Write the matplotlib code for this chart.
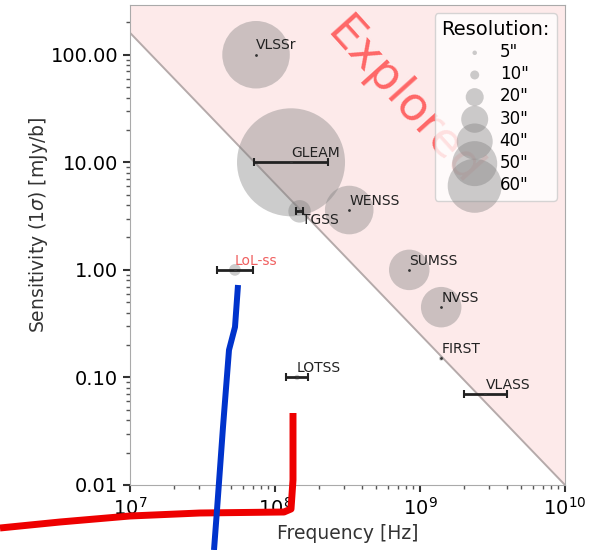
import numpy as np
import matplotlib
matplotlib.use("Agg")
import matplotlib.pyplot as plt
from matplotlib.ticker import FormatStrFormatter
from matplotlib.lines import Line2D

# surveys: frequency range [Hz], 1-sigma sensitivity [mJy/b], resolution [arcsec]
names = ["VLSSr", "GLEAM", "TGSS", "WENSS", "SUMSS", "NVSS", "FIRST", "VLASS", "LOTSS", "LoL-ss"]
freq_lo = np.array([74, 72, 140, 325, 843, 1400, 1400, 2000, 120, 40]) * 1e6
freq_hi = np.array([74, 231, 156, 325, 843, 1400, 1400, 4000, 168, 70]) * 1e6
sens = np.array([100, 10, 3.5, 3.6, 1.0, 0.45, 0.15, 0.07, 0.1, 1.0])
res = np.array([75, 120, 25, 54, 45, 45, 5, 2.5, 6, 13])

legend_res = [5, 10, 20, 30, 40, 50, 60]

# boundary of the explored region
edge_freq = [1e7, 1e10]
edge_sens = [160, 0.01]

# hand-drawn strokes over the picture (figure pixels)
red_stroke = [(0, 528), (60, 522), (130, 516), (200, 513), (284, 512), (291, 509), (293, 480), (293, 413)]
blue_stroke = [(238, 285), (235, 327), (229, 350), (223, 427), (217, 510), (214, 550)]

W, H = 597, 550
fig = plt.figure(figsize=(W / 100, H / 100), dpi=100)
ax = fig.add_axes([130 / W, 1 - 485 / H, 435 / W, 480 / H])
ax.set_xscale("log")
ax.set_yscale("log")
ax.set_xlim(1e7, 1e10)
ax.set_ylim(0.01, 290)

size = lambda r: 0.42 * np.asarray(r) ** 2

ax.fill_between(edge_freq, edge_sens, [290, 290], color="#fdeaea", lw=0, zorder=0)
ax.plot(edge_freq, edge_sens, color="#b5aaaa", lw=1.4, zorder=1)
ax.text(7.7e8, 36, "Explored", rotation=-48, fontsize=34, color="#ff5050", alpha=0.85,
        ha="center", va="center", zorder=1)

centre = np.sqrt(freq_lo * freq_hi)
ax.scatter(centre, sens, s=size(res), color="gray", alpha=0.4, edgecolors="none", zorder=2)

for i, nm in enumerate(names):
    c = centre[i]
    if freq_hi[i] > freq_lo[i]:
        ax.errorbar(c, sens[i], xerr=[[c - freq_lo[i]], [freq_hi[i] - c]], fmt="none",
                    ecolor="#222222", elinewidth=2, capsize=3, capthick=1.5, zorder=3)
    ax.plot(c, sens[i], ".", color="#333333", ms=2, zorder=3)
    col = "#f06060" if nm == "LoL-ss" else "#222222"
    if nm == "TGSS":
        ax.text(c * 1.04, sens[i] * 0.97, nm, fontsize=10, color=col, ha="left", va="top", zorder=4)
    else:
        ax.text(c, sens[i] * 1.05, nm, fontsize=10, color=col, ha="left", va="bottom", zorder=4)

handles = [ax.scatter([], [], s=size(r), color="gray", alpha=0.4, edgecolors="none") for r in legend_res]
ax.legend(handles, [f'{r}"' for r in legend_res], title="Resolution:", loc="upper right",
          fontsize=12, title_fontsize=14, framealpha=0.8, handlelength=1.4, labelspacing=0.25)

ax.yaxis.set_major_formatter(FormatStrFormatter("%.2f"))
ax.tick_params(which="major", labelsize=14, length=5, width=1.5, color="#333333")
ax.tick_params(which="minor", length=3, width=1, color="#555555")
for sp in ax.spines.values():
    sp.set_color("#aaaaaa")
ax.set_xlabel("Frequency [Hz]", fontsize=13.5, color="#333333")
ax.set_ylabel(r"Sensitivity (1$\sigma$) [mJy/b]", fontsize=13.5, color="#333333")
ax.yaxis.set_label_coords(-0.185, 0.542)

for pts, col, lw in [(red_stroke, "#ee0000", 5), (blue_stroke, "#0033cc", 4.3)]:
    xs = [p[0] / W for p in pts]
    ys = [1 - p[1] / H for p in pts]
    fig.add_artist(Line2D(xs, ys, transform=fig.transFigure, color=col, lw=lw,
                          solid_capstyle="butt", solid_joinstyle="round", clip_on=False))

fig.savefig("out.png", dpi=100)
